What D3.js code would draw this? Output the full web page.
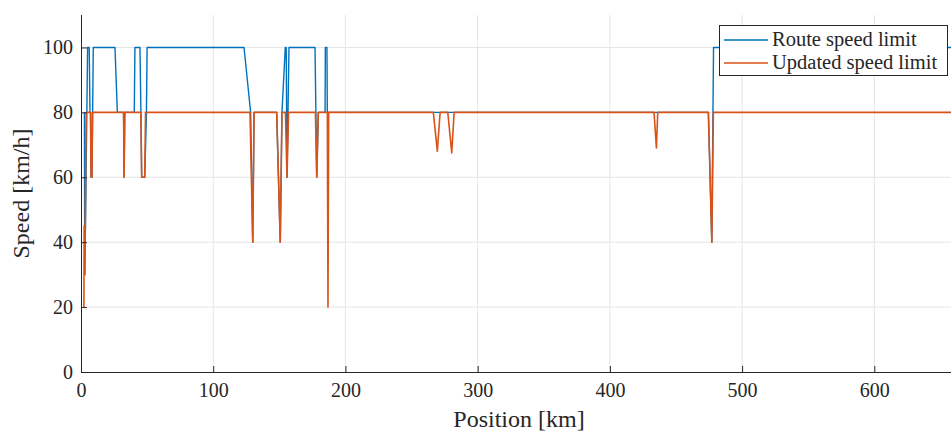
<!DOCTYPE html>
<html><head><meta charset="utf-8">
<script src="https://cdn.jsdelivr.net/npm/d3@7"></script>
<style>
html,body{margin:0;padding:0;background:#fff;}
svg{display:block;}
text{font-family:"Liberation Serif","DejaVu Serif",serif;fill:#262626;}
</style></head>
<body>
<script>
// Data: [position km, speed km/h]
const routeLimit = [
 [2.6,80],[2.8,30],[3.4,45],[5.0,100],[6.2,100],[6.8,80],[7.2,80],[7.6,60],[8.3,60],[9.3,100],
 [25.7,100],[27.5,80],[32.2,80],[32.6,60],[33.1,80],[40.3,80],[40.8,100],[44.6,100],[45.3,80],
 [45.9,60],[48.2,60],[49.5,80],[50.0,100],[123.3,100],[128.3,80],[129.9,40],[130.9,80],
 [148,80],[150.7,40],[152,80],[154.5,100],[155.2,100],[155.8,60],[157.3,100],[177,100],
 [178.3,60],[179.5,80],[184.6,80],[184.8,100],[186,100],[186.3,80],[474.5,80],[477.1,40],
 [478.4,100],[658,100]
];
const updatedLimit = [
 [2.2,20],[2.4,45],[2.9,30],[3.9,80],[7.2,80],[7.6,60],[8.3,60],[8.7,80],[32.2,80],[32.6,60],
 [33.1,80],[45.3,80],[45.9,60],[48.2,60],[48.8,80],[127.8,80],[129.9,40],[130.9,80],[148,80],
 [150.7,40],[152,80],[154.6,80],[155.8,60],[157,80],[177.3,80],[178.3,60],[179.5,80],[186.3,80],
 [186.8,20],[187.3,80],[266.5,80],[269.5,68],[271.6,80],[277.4,80],[280.4,67.5],[282.2,80],
 [433.4,80],[435.2,69],[436.2,80],[474.5,80],[477.1,40],[478.3,80],[658,80]
];
const seriesNames = ["Route speed limit","Updated speed limit"];
const xTicks = [0,100,200,300,400,500,600];
const yTicks = [0,20,40,60,80,100];

const W=951,H=432;
const m={left:81,right:0,top:15,bottom:60};
const svg=d3.select("body").append("svg").attr("width",W).attr("height",H);
const x=d3.scaleLinear().domain([0,658]).range([m.left,W-m.right]);
const y=d3.scaleLinear().domain([0,110]).range([H-m.bottom,m.top]);

// grid
const g=svg.append("g");
g.selectAll(".gx").data(xTicks.filter(d=>d>0)).join("line")
 .attr("x1",d=>x(d)).attr("x2",d=>x(d)).attr("y1",y(0)).attr("y2",y(110))
 .attr("stroke","#e5e5e5").attr("stroke-width",1);
g.selectAll(".gy").data(yTicks.filter(d=>d>0)).join("line")
 .attr("x1",x(0)).attr("x2",W).attr("y1",d=>y(d)).attr("y2",d=>y(d))
 .attr("stroke","#e5e5e5").attr("stroke-width",1);

const line=d3.line().x(d=>x(d[0])).y(d=>y(d[1]));
const colors=["#0072BD","#D95319"];
svg.append("path").datum(routeLimit).attr("d",line).attr("fill","none")
 .attr("stroke",colors[0]).attr("stroke-width",1.4).attr("stroke-linejoin","round");
svg.append("path").datum(updatedLimit).attr("d",line).attr("fill","none")
 .attr("stroke",colors[1]).attr("stroke-width",1.6).attr("stroke-linejoin","round");

// axes
const xa=svg.append("g").attr("transform",`translate(0,${y(0)})`)
 .call(d3.axisBottom(x).tickValues(xTicks).tickSize(-6).tickPadding(11).tickFormat(d3.format("d")));
const ya=svg.append("g").attr("transform",`translate(${x(0)},0)`)
 .call(d3.axisLeft(y).tickValues(yTicks).tickSize(-6).tickPadding(8).tickFormat(d3.format("d")));
[xa,ya].forEach(a=>{
 a.select(".domain").attr("stroke","#262626").attr("stroke-width",1);
 a.selectAll(".tick line").attr("stroke","#262626");
 a.selectAll(".tick text").attr("font-size",20).attr("font-family","Liberation Serif").attr("fill","#262626");
});
ya.select(".domain").attr("d",`M0.5,${y(0)}V${y(110)}`);
xa.select(".domain").attr("d",`M${x(0)},0.5H${W}`);

svg.append("text").attr("x",519).attr("y",427).attr("text-anchor","middle")
 .attr("font-size",24).text("Position [km]");
svg.append("text").attr("transform",`translate(29,${y(55)}) rotate(-90)`).attr("text-anchor","middle")
 .attr("font-size",24).text("Speed [km/h]");

// legend
const lg=svg.append("g");
lg.append("rect").attr("x",719.5).attr("y",25.5).attr("width",228).attr("height",50)
 .attr("fill","#fff").attr("stroke","#262626").attr("stroke-width",1);
seriesNames.forEach((n,i)=>{
 const yy=40+i*23;
 lg.append("line").attr("x1",724).attr("x2",768).attr("y1",yy).attr("y2",yy)
  .attr("stroke",colors[i]).attr("stroke-width",1.6);
 lg.append("text").attr("x",772).attr("y",yy+6).attr("font-size",20.5).text(n);
});
</script>
</body></html>
